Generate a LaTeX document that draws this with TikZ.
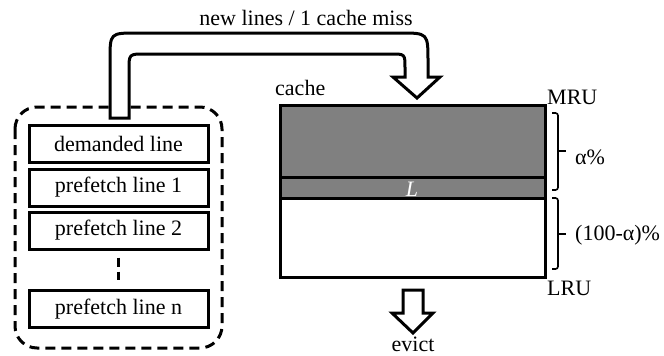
\documentclass[tikz,border=0pt]{standalone}
\usepackage{fontspec}
\setmainfont{Liberation Serif}
\begin{document}
\begin{tikzpicture}[x=1pt,y=-1pt,
  linebox/.style={draw,line width=3pt,minimum width=179pt,minimum height=37pt,inner sep=0pt,font=\fontsize{22}{24}\selectfont},
  lbl/.style={font=\fontsize{22}{24}\selectfont,inner sep=0pt},
  blockarrow/.style={draw,line width=3pt,fill=white,line join=miter},
  bracestyle/.style={draw,line width=1.6pt,rounded corners=2.5pt}]
\useasboundingbox (0,0) rectangle (664,356);
% group box
\draw[line width=3pt,dash pattern=on 10pt off 6pt,rounded corners=22pt] (15,107) rectangle (222,348);
% line boxes
\node[linebox] (dem) at (118.5,144) {demanded line};
\node[linebox] (pf1) at (118.5,187.5) {prefetch line 1};
\node[linebox] (pf2) at (118.5,230.5) {prefetch line 2};
\node[linebox] (pfn) at (118.5,309) {prefetch line n};
\draw[line width=2.4pt,dash pattern=on 9pt off 5pt] (pf2.south) ++(0,7) -- ++(0,22);
% cache
\fill[black!50] (280,105) rectangle (545,198);
\draw[line width=3pt] (280,105) rectangle (545,277);
\draw[line width=3pt] (280,177) -- (545,177);
\draw[line width=3pt] (280,198) -- (545,198);
\node[lbl,text=white,font=\fontsize{22}{24}\selectfont\itshape] (L) at (412,189) {L};
\node[lbl,anchor=west] (cache) at (275,88) {cache};
\node[lbl,anchor=west] (mru) at (547,97) {MRU};
\node[lbl,anchor=west] (lru) at (547,288) {LRU};
\node[lbl,anchor=west] (alpha) at (575,157) {α\%};
\node[lbl,anchor=west] (rest) at (575,235) {(100-α)\%};
% braces
\draw[bracestyle] (552,113) -- (558,113) -- (558,190) -- (552,190);
\draw[line width=1.6pt] (558,151) -- (566,151);
\draw[bracestyle] (552,198) -- (558,198) -- (558,269) -- (552,269);
\draw[line width=1.6pt] (558,234) -- (566,234);
% big arrow
\draw[blockarrow] (110,118) -- (110,60) .. controls (110,33) .. (137,33) -- (400,33)
  .. controls (428,33) .. (428,62) -- (428,77) -- (440,77) -- (417,98) -- (393,77) -- (405,77)
  -- (405,68) .. controls (405,54) .. (391,54) -- (145,54) .. controls (129,54) .. (129,70)
  -- (129,118) -- cycle;
\node[lbl] (newl) at (306,18) {new lines / 1 cache miss};
% evict arrow
\draw[blockarrow] (403,290) -- (423,290) -- (423,313) -- (433,313) -- (413,333) -- (392,313) -- (403,313) -- cycle;
\node[lbl,anchor=base] (evict) at (413,351) {evict};
\end{tikzpicture}
\end{document}
